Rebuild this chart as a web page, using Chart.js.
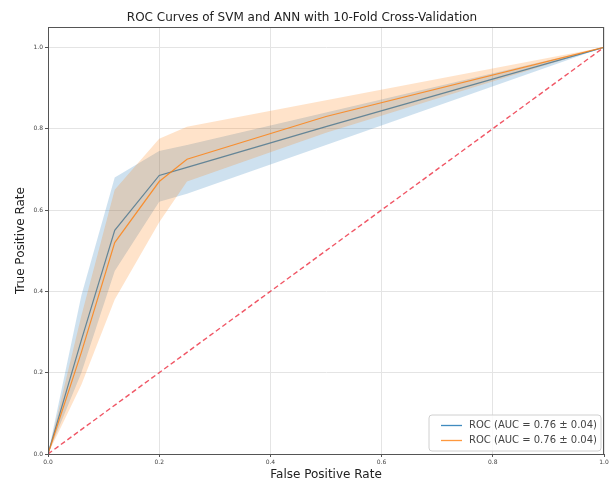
<!DOCTYPE html>
<html>
<head>
<meta charset="utf-8">
<script src="https://cdn.jsdelivr.net/npm/chart.js@4"></script>
<style>
  body { margin: 0; background: #fff; }
</style>
</head>
<body>
<canvas id="rocChart" width="614" height="482"></canvas>
<script>
// values (mean ROC with +/- 1 std band)
const fprGrid  = [0, 0.06, 0.12, 0.2, 0.25, 0.5, 1];
const svmTpr   = [0, 0.28, 0.55, 0.685, 0.705, 0.805, 1];
const svmUpper = [0, 0.39, 0.68, 0.745, 0.76, 0.84, 1];
const svmLower = [0, 0.20, 0.45, 0.62, 0.64, 0.76, 1];
const annTpr   = [0, 0.25, 0.52, 0.67, 0.725, 0.83, 1];
const annUpper = [0, 0.34, 0.65, 0.775, 0.805, 0.87, 1];
const annLower = [0, 0.17, 0.38, 0.57, 0.67, 0.79, 1];
const chanceX  = [0, 1];
const chanceY  = [0, 1];
const svmLabel = 'ROC (AUC = 0.76 ± 0.04)';
const annLabel = 'ROC (AUC = 0.76 ± 0.04)';
const xTicks = [0, 0.2, 0.4, 0.6, 0.8, 1.0];
const yTicks = [0, 0.2, 0.4, 0.6, 0.8, 1.0];

const font = 'DejaVu Sans';

function pts(xs, ys) {
    return xs.map((x, i) => ({ x: x, y: ys[i] }));
}

function band(ys, fillColor, order) {
    return {
        data: pts(fprGrid, ys),
        borderWidth: 0,
        pointRadius: 0,
        backgroundColor: fillColor,
        fill: false,
        order: order
    };
}

// frame on all four sides + legend inside the plot
const framePlugin = {
    id: 'frame',
    afterDraw(chart) {
        const { ctx, chartArea: a } = chart;
        ctx.save();
        ctx.strokeStyle = '#555';
        ctx.lineWidth = 1;
        ctx.strokeRect(a.left + 0.5, a.top + 0.5, a.right - a.left - 1, a.bottom - a.top);

        // legend
        const items = chart.data.datasets.filter(d => d.inLegend);
        const boxW = 172, rowH = 15;
        const boxH = items.length * rowH + 6;
        const bx = a.right - boxW - 3, by = a.bottom - boxH - 3;
        ctx.fillStyle = 'rgba(255,255,255,0.85)';
        ctx.strokeStyle = '#d0d0d0';
        ctx.beginPath();
        ctx.roundRect(bx, by, boxW, boxH, 3);
        ctx.fill();
        ctx.stroke();
        ctx.font = '10px ' + font;
        ctx.textBaseline = 'middle';
        items.forEach((d, i) => {
            const y = by + 3 + rowH * i + rowH / 2;
            ctx.strokeStyle = d.borderColor;
            ctx.lineWidth = 1.3;
            ctx.beginPath();
            ctx.moveTo(bx + 12, y);
            ctx.lineTo(bx + 33, y);
            ctx.stroke();
            ctx.fillStyle = '#444';
            ctx.fillText(d.label, bx + 40, y);
        });
        ctx.restore();
    }
};

const svmBandUpper = band(svmUpper, 'rgba(31,119,180,0.22)', 4);
svmBandUpper.fill = '+1';
const annBandUpper = band(annUpper, 'rgba(255,127,14,0.22)', 2);
annBandUpper.fill = '+1';

new Chart(document.getElementById('rocChart'), {
    type: 'line',
    data: {
        datasets: [
            svmBandUpper,
            band(svmLower, 'rgba(31,119,180,0.22)', 4),
            {
                label: svmLabel,
                data: pts(fprGrid, svmTpr),
                borderColor: 'rgba(31,119,180,0.85)',
                borderWidth: 1.2,
                pointRadius: 0,
                fill: false,
                order: 3,
                inLegend: true
            },
            annBandUpper,
            band(annLower, 'rgba(255,127,14,0.22)', 2),
            {
                label: annLabel,
                data: pts(fprGrid, annTpr),
                borderColor: 'rgba(255,127,14,0.8)',
                borderWidth: 1.2,
                pointRadius: 0,
                fill: false,
                order: 1,
                inLegend: true
            },
            {
                label: 'Chance',
                data: pts(chanceX, chanceY),
                borderColor: 'rgba(235,30,50,0.75)',
                borderWidth: 1.4,
                borderDash: [5, 3],
                pointRadius: 0,
                fill: false,
                order: 0
            }
        ]
    },
    options: {
        responsive: false,
        animation: false,
        layout: { padding: { left: 0, right: 10, top: 0, bottom: 0 } },
        plugins: {
            legend: { display: false },
            tooltip: { enabled: false },
            title: {
                display: true,
                text: 'ROC Curves of SVM and ANN with 10-Fold Cross-Validation',
                color: '#222',
                font: { family: font, size: 12, weight: 'normal' },
                padding: { top: 11, bottom: 1.6 }
            }
        },
        scales: {
            x: {
                type: 'linear',
                min: 0,
                max: 1,
                afterBuildTicks: s => { s.ticks = xTicks.map(v => ({ value: v })); },
                afterFit: s => { s.height = 28; },
                ticks: {
                    color: '#444',
                    font: { family: font, size: 6 },
                    padding: 2,
                    maxRotation: 0,
                    callback: v => v.toFixed(1)
                },
                grid: { color: '#e4e4e4', tickColor: '#555', tickLength: 3 },
                border: { display: true, color: '#555' },
                title: {
                    display: true,
                    text: 'False Positive Rate',
                    color: '#222',
                    font: { family: font, size: 12 },
                    padding: { top: 5, bottom: 0 }
                }
            },
            y: {
                type: 'linear',
                min: 0,
                max: 1.05,
                afterBuildTicks: s => { s.ticks = yTicks.map(v => ({ value: v })); },
                afterFit: s => { s.width = 48; },
                ticks: {
                    color: '#444',
                    font: { family: font, size: 6 },
                    padding: 2,
                    callback: v => v.toFixed(1)
                },
                grid: { color: '#e4e4e4', tickColor: '#555', tickLength: 3 },
                border: { display: true, color: '#555' },
                title: {
                    display: true,
                    text: 'True Positive Rate',
                    color: '#222',
                    font: { family: font, size: 12 },
                    padding: { top: 14, bottom: 0 }
                }
            }
        }
    },
    plugins: [framePlugin]
});
</script>
</body>
</html>
